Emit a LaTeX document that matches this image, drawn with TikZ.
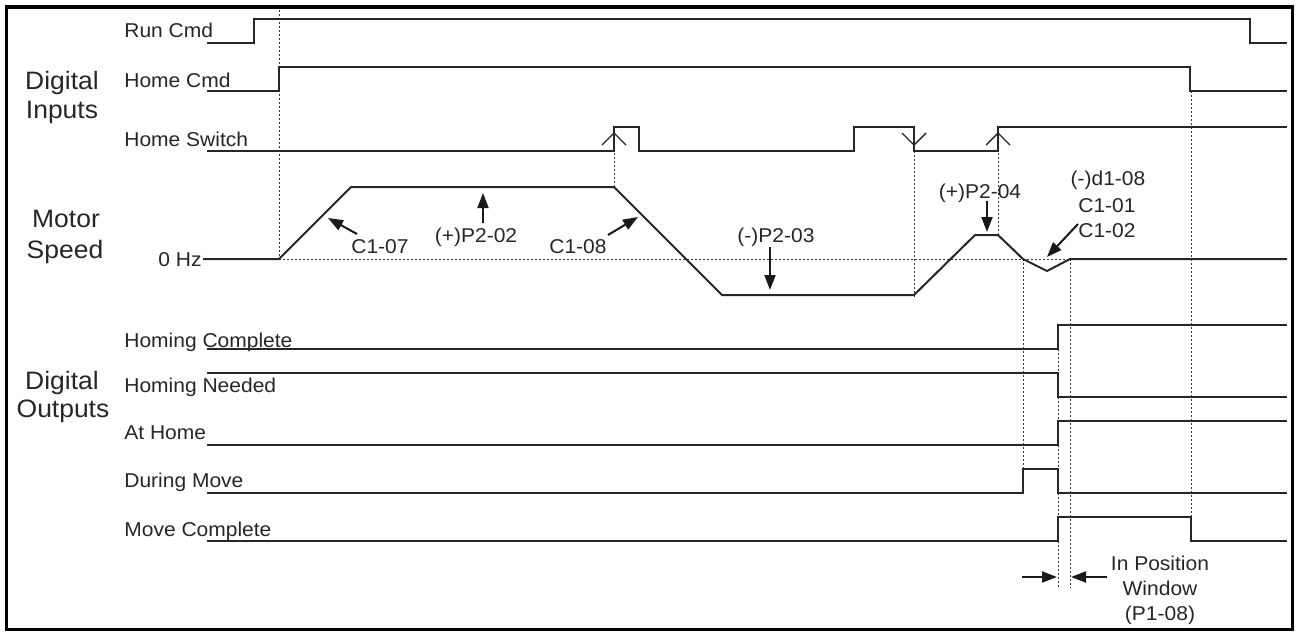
\documentclass[tikz,border=0pt]{standalone}
\usepackage{fontspec}
\setmainfont{Liberation Sans}[FakeStretch=1.05]
\usetikzlibrary{arrows.meta}
\begin{document}
\begin{tikzpicture}[x=0.5pt,y=-0.5pt,
  sig/.style={line width=1pt, draw=black!85, line join=miter},
  guide/.style={line width=0.4pt, draw=black!80, dash pattern=on 1pt off 1pt},
  lbl/.style={inner sep=0pt, font=\fontsize{10}{11}\selectfont, anchor=base west, text=black!85},
  big/.style={inner sep=0pt, font=\fontsize{12.6}{14}\selectfont, anchor=base, text=black!85},
  ann/.style={inner sep=0pt, font=\fontsize{10}{11}\selectfont, anchor=base, text=black!85},
  pointer/.style={line width=1pt, draw=black!90, -{Triangle[length=7.5pt,width=5.5pt]}},
  chev/.style={line width=0.7pt, draw=black!85}
]
\useasboundingbox (0,0) rectangle (1297,632);
\draw[line width=1.7pt] (6.5,7) rectangle (1292.5,629.5);

% guide lines
\draw[guide] (279,10) -- (279,259);
\draw[guide] (279,259) -- (1287,259);
\draw[guide] (614,133) -- (614,187);
\draw[guide] (914,151) -- (914,298);
\draw[guide] (998,133) -- (998,235);
\draw[guide] (1023,259) -- (1023,469);
\draw[guide] (1058,325) -- (1058,588);
\draw[guide] (1070,259) -- (1070,588);
\draw[guide] (1191,91) -- (1191,541);

% digital inputs
\draw[sig] (207,43) -- (254,43) -- (254,19) -- (1250,19) -- (1250,43) -- (1287,43);
\draw[sig] (207,91) -- (279,91) -- (279,67) -- (1190,67) -- (1190,91) -- (1287,91);
\draw[sig] (207,151) -- (614,151) -- (614,127) -- (639,127) -- (639,151) -- (854,151)
  -- (854,127) -- (914,127) -- (914,151) -- (998,151) -- (998,127) -- (1287,127);
\draw[chev] (602,145) -- (614,133) -- (626,145);
\draw[chev] (902,133) -- (914,145) -- (926,133);
\draw[chev] (986,145) -- (998,133) -- (1010,145);

% motor speed
\draw[sig] (203,259) -- (279,259) -- (351,187) -- (614,187) -- (722,295) -- (914,295)
  -- (975,235) -- (998,235) -- (1023,259) -- (1047,271) -- (1070,259) -- (1287,259);

% digital outputs
\draw[sig] (207,349) -- (1058,349) -- (1058,325) -- (1287,325);
\draw[sig] (207,373) -- (1058,373) -- (1058,397) -- (1287,397);
\draw[sig] (207,445) -- (1058,445) -- (1058,421) -- (1287,421);
\draw[sig] (207,493) -- (1023,493) -- (1023,469) -- (1058,469) -- (1058,493) -- (1287,493);
\draw[sig] (207,541) -- (1058,541) -- (1058,517) -- (1191,517) -- (1191,541) -- (1287,541);

% signal labels
\node[lbl] (runcmd) at (124,37) {Run Cmd};
\node[lbl] (homecmd) at (124,87) {Home Cmd};
\node[lbl] (homesw) at (124,146) {Home Switch};
\node[lbl] (homcomp) at (124,347) {Homing Complete};
\node[lbl] (homneed) at (124,392) {Homing Needed};
\node[lbl] (athome) at (124,439) {At Home};
\node[lbl] (durmove) at (124,487) {During Move};
\node[lbl] (movecomp) at (124,536) {Move Complete};
\node[lbl, anchor=base east] (zerohz) at (202,266) {0 Hz};

% group labels
\node[big] (di1) at (62,89) {Digital};
\node[big] (di2) at (62,118) {Inputs};
\node[big] (ms1) at (66,227) {Motor};
\node[big] (ms2) at (65,258) {Speed};
\node[big] (do1) at (62,389) {Digital};
\node[big] (do2) at (63,417) {Outputs};

% annotations
\node[ann] (c107) at (380,253) {C1-07};
\node[ann] (p202) at (476,242) {(+)P2-02};
\node[ann] (c108) at (578,253) {C1-08};
\node[ann] (p203) at (776,242) {(-)P2-03};
\node[ann] (p204) at (980,198) {(+)P2-04};
\node[ann] (d108) at (1108,185) {(-)d1-08};
\node[ann] (c101) at (1107,212) {C1-01};
\node[ann] (c102) at (1107,237) {C1-02};
\node[ann] (ipw1) at (1160,570) {In Position};
\node[ann] (ipw2) at (1160,595) {Window};
\node[ann] (ipw3) at (1160,620) {(P1-08)};

\coordinate (a1s) at (357,234); \coordinate (a1e) at (328,218);
\coordinate (a2s) at (483,223); \coordinate (a2e) at (483,193);
\coordinate (a3s) at (608,235); \coordinate (a3e) at (638,217);
\coordinate (a4s) at (770,247); \coordinate (a4e) at (770,290);
\coordinate (a5s) at (987,201); \coordinate (a5e) at (987,232);
\coordinate (a6s) at (1078,224); \coordinate (a6e) at (1047,257);
\coordinate (a7s) at (1022,577); \coordinate (a7e) at (1057,577);
\coordinate (a8s) at (1107,577); \coordinate (a8e) at (1071,577);
\draw[pointer] (a1s) -- (a1e);
\draw[pointer] (a2s) -- (a2e);
\draw[pointer] (a3s) -- (a3e);
\draw[pointer] (a4s) -- (a4e);
\draw[pointer] (a5s) -- (a5e);
\draw[pointer] (a6s) -- (a6e);
\draw[pointer] (a7s) -- (a7e);
\draw[pointer] (a8s) -- (a8e);
\end{tikzpicture}
\end{document}
